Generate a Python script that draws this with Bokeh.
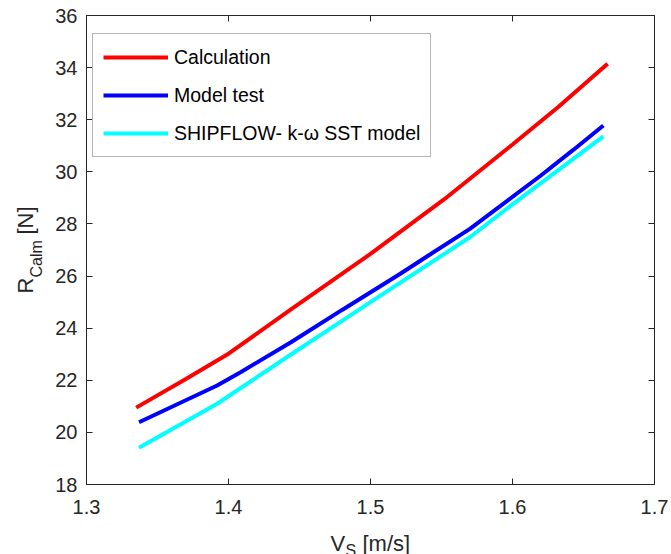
from bokeh.plotting import figure
from bokeh.models import (Range1d, FixedTicker, LinearAxis, Legend, LegendItem, Label,
                          CustomLabelingPolicy)
from bokeh.embed import file_html
from bokeh.resources import INLINE
import math

# ---- data ----
calc_v = [1.335, 1.37, 1.40, 1.444, 1.50, 1.552, 1.60, 1.632, 1.667]
calc_r = [20.95, 22.05, 23.02, 24.72, 26.85, 28.95, 31.05, 32.48, 34.15]

test_v = [1.337, 1.392, 1.4085, 1.444, 1.48, 1.521, 1.54, 1.57, 1.62, 1.643, 1.664]
test_r = [20.39, 21.8, 22.31, 23.46, 24.7, 26.09, 26.76, 27.81, 29.86, 30.85, 31.78]

ship_v = [1.337, 1.392, 1.444, 1.50, 1.57, 1.60, 1.664]
ship_r = [19.41, 21.1, 22.99, 25.0, 27.49, 28.75, 31.36]

x_ticks = [1.3, 1.4, 1.5, 1.6, 1.7]
y_ticks = [18, 20, 22, 24, 26, 28, 30, 32, 34, 36]
series_names = ["Calculation", "Model test", "SHIPFLOW- k-\u03c9 SST model"]

FONT = "Liberation Sans"
AX = "#262626"

# axes box (pixels in the 671x554 canvas) and its data limits
W, H = 671, 554
FL, FR, FT, FB = 86.0, 654.0, 15.0, 484.0
X0, X1, Y0, Y1 = 1.3, 1.7, 18.0, 36.0
sx = (X1 - X0) / (FR - FL)
sy = (Y1 - Y0) / (FB - FT)

def dx(px):
    return X0 + (px - FL) * sx

def dy(py):
    return Y1 - (py - FT) * sy

# the frame covers the whole canvas; the axes sit at fixed data locations
p = figure(width=W, height=H, output_backend="svg", toolbar_location=None,
           x_range=Range1d(dx(0), dx(W)), y_range=Range1d(dy(H), dy(0)),
           x_axis_type=None, y_axis_type=None,
           min_border=0, min_border_left=0, min_border_right=0,
           min_border_top=0, min_border_bottom=0,
           background_fill_color="white", border_fill_color="white")
p.grid.visible = False
p.outline_line_color = None

no_labels = CustomLabelingPolicy(code="for (const i of indices) { indices.unset(i) } return indices")

def make_axis(ticks, loc, bounds, show_labels):
    ax = LinearAxis(fixed_location=loc, bounds=bounds)
    ax.ticker = FixedTicker(ticks=ticks)
    ax.minor_tick_line_color = None
    ax.major_tick_in = 6
    ax.major_tick_out = 0
    ax.axis_line_color = AX
    ax.major_tick_line_color = AX
    ax.axis_line_width = 1
    ax.major_label_text_font = FONT
    ax.major_label_text_color = AX
    ax.major_label_text_font_size = "20px"
    if not show_labels:
        ax.major_label_policy = no_labels
    return ax

bottom = make_axis(x_ticks, Y0, (X0, X1), True)
bottom.major_label_standoff = 15
left = make_axis(y_ticks, X0, (Y0, Y1), True)
left.major_label_standoff = 9
top = make_axis(x_ticks, Y1, (X0, X1), False)
right = make_axis(y_ticks, X1, (Y0, Y1), False)
p.add_layout(bottom, "below")
p.add_layout(left, "left")
p.add_layout(top, "above")
p.add_layout(right, "right")

r1 = p.line(calc_v, calc_r, line_color="#ff0000", line_width=4)
r2 = p.line(test_v, test_r, line_color="#0000ff", line_width=4)
r3 = p.line(ship_v, ship_r, line_color="#00ffff", line_width=4)

legend = Legend(items=[LegendItem(label=series_names[0], renderers=[r1]),
                       LegendItem(label=series_names[1], renderers=[r2]),
                       LegendItem(label=series_names[2], renderers=[r3])],
                location=(92, 397), padding=10, spacing=12,
                glyph_width=65, glyph_height=26, label_height=26, label_standoff=6,
                label_text_font=FONT, label_text_font_size="19.5px", label_text_color="black",
                border_line_color="#6e6e6e", border_line_width=1,
                background_fill_color="white", background_fill_alpha=1.0,
                margin=0)
p.add_layout(legend, "center")

def lab(txt, px, py, size, angle=0.0):
    p.add_layout(Label(x=dx(px), y=dy(py), text=txt, angle=angle,
                       text_font=FONT, text_font_size=size, text_color=AX,
                       text_align="left", text_baseline="alphabetic"))

# x label: V_S [m/s]
lab("V", 330, 543, "22px")
lab("S", 345, 550, "16px")
lab("[m/s]", 362, 543, "22px")

# y label: R_Calm [N]
ang = math.pi / 2
lab("R", 25, 293, "22px", ang)
lab("Calm", 36, 277, "16px", ang)
lab("[N]", 25, 234, "22px", ang)

open("out.html", "w").write(file_html(p, INLINE))
